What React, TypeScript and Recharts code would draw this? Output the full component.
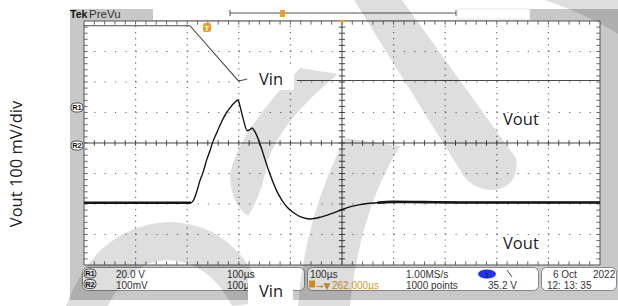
import React from 'react';
import { LineChart, Line, XAxis, YAxis, ReferenceLine, ReferenceArea } from 'recharts';

// ---- data ----
// time in µs relative to trigger, Vout in mV (relative to R2 reference), Vin in volts
const voutTimeUs = [-238.4, -31, -27, -20, -14, -8, 0, 6, 10, 20, 29, 38, 45, 52, 57, 60, 64, 70, 78, 83, 87, 91, 95, 101, 107, 112, 119, 126, 135, 145, 155, 167, 183, 200, 222, 244, 262, 280, 296, 330, 360, 420, 490, 761.6];
const voutMv = [-196, -196, -190, -160, -125, -98, -52, -24, -2, 38, 72, 100, 116, 130, 138, 141, 120, 80, 40, 44, 49, 42, 30, 5, -25, -52, -88, -120, -157, -187, -210, -228, -243, -249, -242, -230, -218, -208, -202, -196, -193, -194, -195, -195];
const vinTimeUs = [-238.4, -33, 60, 66, 74, 78, 120, 174, 761.6];
const vinVolts: (number | null)[] = [53.3, 53.3, 17.4, 17.4, 18.0, 18.4, null, 17.4, 17.4];

// screen settings
const T_MIN = -238.4;
const T_MAX = 761.6;
const US_PER_DIV = 100;
const MV_PER_DIV = 100;
const MV_MIN = -400;
const MV_MAX = 400;
const VIN_DOMAIN: [number, number] = [-103.6, 56.4];

const voutData = voutTimeUs.map((t, i) => ({ t, v: voutMv[i] }));
const voutFlat = voutData.map((d) => ({ t: d.t, v: d.t < -28 || d.t > 320 ? d.v : null }));
const vinData = vinTimeUs.map((t, i) => ({ t, v: vinVolts[i] }));

const vGrid: number[] = [];
for (let k = 1; k < 10; k++) vGrid.push(T_MIN + k * US_PER_DIV);
const hGrid: number[] = [];
for (let k = 1; k < 8; k++) hGrid.push(MV_MIN + k * MV_PER_DIV);
const xMinor: number[] = [];
for (let k = 1; k < 50; k++) xMinor.push(T_MIN + k * (US_PER_DIV / 5));
const yMinor: number[] = [];
for (let k = 1; k < 40; k++) yMinor.push(MV_MIN + k * (MV_PER_DIV / 5));
const T_CENTER = T_MIN + 5 * US_PER_DIV;

const GRID = '#6a6a6a';
const FRAME = '#555';
const ORANGE = '#f0a020';
const SANS = '"Open Sans", "Noto Sans", sans-serif';
const SCOPE = '"Liberation Sans", Arial, sans-serif';

function Chart() {
  const seg = (key: string, a: { x: number; y: number }, b: { x: number; y: number }, color = '#444') => (
    <ReferenceLine key={key} yAxisId="mv" segment={[a, b]} stroke={color} strokeWidth={1} ifOverflow="visible" />
  );
  return (
    <LineChart width={618} height={306} margin={{ top: 21, right: 18, bottom: 41, left: 84 }}>
      <XAxis type="number" dataKey="t" domain={[T_MIN, T_MAX]} hide allowDataOverflow />
      <YAxis yAxisId="mv" type="number" domain={[MV_MIN, MV_MAX]} hide allowDataOverflow />
      <YAxis yAxisId="vin" type="number" domain={VIN_DOMAIN} hide allowDataOverflow />
      <ReferenceArea yAxisId="mv" x1={T_MIN} x2={T_MAX} y1={MV_MIN} y2={MV_MAX} fill="#ffffff" fillOpacity={1} stroke={FRAME} strokeWidth={1} ifOverflow="visible" />
      {vGrid.map((t) =>
        Math.abs(t - T_CENTER) < 1 ? (
          <ReferenceLine key={'vg' + t} yAxisId="mv" x={t} stroke="#444" strokeWidth={1} />
        ) : (
          <ReferenceLine key={'vg' + t} yAxisId="mv" x={t} stroke={GRID} strokeWidth={1.2} strokeDasharray="1.2 4.9" />
        )
      )}
      {hGrid.map((v) =>
        v === 0 ? (
          <ReferenceLine key={'hg' + v} yAxisId="mv" y={v} stroke="#444" strokeWidth={1} />
        ) : (
          <ReferenceLine key={'hg' + v} yAxisId="mv" y={v} stroke={GRID} strokeWidth={1.2} strokeDasharray="1.2 9.12" />
        )
      )}
      {xMinor.map((t) => seg('xc' + t, { x: t, y: -9 }, { x: t, y: 9 }))}
      {yMinor.map((v) => seg('yc' + v, { x: T_CENTER - 6, y: v }, { x: T_CENTER + 6, y: v }))}
      {xMinor.map((t) => seg('xt' + t, { x: t, y: MV_MAX }, { x: t, y: MV_MAX - 12 }, '#666'))}
      {xMinor.map((t) => seg('xb' + t, { x: t, y: MV_MIN }, { x: t, y: MV_MIN + 12 }, '#666'))}
      {yMinor.map((v) => seg('yl' + v, { x: T_MIN, y: v }, { x: T_MIN + 7, y: v }, '#666'))}
      {yMinor.map((v) => seg('yr' + v, { x: T_MAX, y: v }, { x: T_MAX - 7, y: v }, '#666'))}
      <Line yAxisId="vin" data={vinData} dataKey="v" stroke="#4a4a4a" strokeWidth={1.1} dot={false} isAnimationActive={false} connectNulls={false} />
      <Line yAxisId="mv" type="monotone" data={voutData} dataKey="v" stroke="#151515" strokeWidth={1.4} dot={false} isAnimationActive={false} />
      <Line yAxisId="mv" type="monotone" data={voutFlat} dataKey="v" stroke="#151515" strokeWidth={2.6} dot={false} isAnimationActive={false} connectNulls={false} />
    </LineChart>
  );
}

function RBadge({ x, y, label }: { x: number; y: number; label: string }) {
  return (
    <g>
      <rect x={x} y={y} width={12} height={9} rx={4} fill="#fff" stroke="#333" strokeWidth={0.8} />
      <text x={x + 6} y={y + 7.3} fontSize={7.5} fontWeight="bold" fontFamily={SCOPE} textAnchor="middle" fill="#111">{label}</text>
    </g>
  );
}

function Overlay() {
  const row1 = 278;
  const row2 = 288.5;
  const fs = 10;
  return (
    <svg width={618} height={306} style={{ position: 'absolute', left: 0, top: 0 }}>
      {/* top bar */}
      <text x={70} y={18} fontSize={10.5} fontWeight="bold" fontFamily={SCOPE} fill="#111">Tek</text>
      <text x={89} y={18} fontSize={11.5} fontFamily={SCOPE} fill="#333">PreVu</text>
      <rect x={153} y={9} width={377} height={11} fill="#fff" />
      <line x1={230} y1={13} x2={456} y2={13} stroke="#555" strokeWidth={1} />
      <line x1={230} y1={10} x2={230} y2={16} stroke="#555" strokeWidth={1} />
      <line x1={456} y1={10} x2={456} y2={16} stroke="#555" strokeWidth={1} />
      <rect x={457} y={9} width={73} height={10} fill="#fff" stroke="#ccc" strokeWidth={0.5} />
      <rect x={280} y={10} width={5} height={7} fill={ORANGE} />
      <path d="M338.5,20 L345.5,20 L342,24 Z" fill={ORANGE} />
      {/* trigger marker */}
      <rect x={203} y={23} width={8} height={9} rx={2} fill={ORANGE} />
      <text x={207} y={30.5} fontSize={7} fontWeight="bold" fontFamily={SCOPE} textAnchor="middle" fill="#fff">T</text>
      {/* reference markers */}
      <RBadge x={71} y={103} label="R1" />
      <RBadge x={71} y={141} label="R2" />
      {/* bottom info boxes */}
      <rect x={82.5} y={267.5} width={222} height={23} rx={5} fill="#fff" stroke="#888" />
      <rect x={307.5} y={267.5} width={231} height={23} rx={5} fill="#fff" stroke="#888" />
      <rect x={541.5} y={267.5} width={75} height={23} rx={5} fill="#fff" stroke="#888" />
      <RBadge x={84} y={269} label="R1" />
      <RBadge x={84} y={279.5} label="R2" />
      <g fontSize={fs} fontFamily={SCOPE} fill="#333">
        <text x={116} y={row1}>20.0 V</text>
        <text x={116} y={row2}>100mV</text>
        <text x={227} y={row1}>100µs</text>
        <text x={227} y={row2}>100µs</text>
        <text x={310} y={row1}>100µs</text>
        <text x={406} y={row1}>1.00MS/s</text>
        <text x={406} y={row2}>1000 points</text>
        <text x={488} y={row2}>35.2 V</text>
        <text x={553} y={row1}>6 Oct</text>
        <text x={593} y={row1}>2022</text>
        <text x={547} y={row2}>12: 13: 35</text>
      </g>
      <ellipse cx={487} cy={274} rx={9} ry={4.5} fill="#1f35f0" />
      <text x={487} y={277.5} fontSize={8} fontFamily={SCOPE} textAnchor="middle" fill="#111">1</text>
      <line x1={507} y1={270} x2={512} y2={277} stroke="#444" strokeWidth={1} />
      <rect x={309} y={280.5} width={6} height={7} fill={ORANGE} />
      <text x={316} y={row2} fontSize={9} fontFamily='"DejaVu Sans", sans-serif' fill="#d49a28">→▼</text>
      <text x={332} y={row2} fontSize={fs} fontFamily={SCOPE} fill="#d49a28">262.000µs</text>
      {/* watermark */}
      <g fill="#000" fillOpacity={0.13}>
        <path d="M354,0 L402,0 L516,158 Q520,186 494,190 Q470,190 460,170 Z" />
        <path d="M300,68 L338,74 Q282,120 268,160 Q262,195 248,216 Q232,205 230,178 Q232,140 300,68 Z" />
        <path d="M345,138 L400,146 Q360,210 350,306 L298,306 Q304,220 345,138 Z" />
        <path d="M66,306 Q96,226 168,222 Q236,222 268,302 L232,306 Q210,262 168,260 Q128,262 108,306 Z" />
        <path d="M545,0 L618,0 L618,34 Q590,16 545,0 Z" />
      </g>
      {/* annotations */}
      <rect x={248} y={66} width={46} height={24} fill="#fff" />
      <text x={259} y={85} fontSize={16.5} fontFamily={SANS} fill="#222">Vin</text>
      <text x={503} y={125} fontSize={16.5} fontFamily={SANS} fill="#222">Vout</text>
      <text x={503} y={249} fontSize={16.5} fontFamily={SANS} fill="#222">Vout</text>
      <rect x={248} y={278} width={45} height={28} fill="#fff" />
      <text x={259} y={297} fontSize={16.5} fontFamily={SANS} fill="#222">Vin</text>
      <text x={21.5} y={164} fontSize={16.5} fontFamily={SANS} fill="#222" textAnchor="middle" transform="rotate(-90 21.5 164)">Vout 100 mV/div</text>
    </svg>
  );
}

export default function App() {
  return (
    <div style={{ position: 'absolute', left: 0, top: 0, width: 618, height: 306, background: '#fff', overflow: 'hidden' }}>
      <div style={{ position: 'absolute', left: 70, top: 9, width: 548, height: 291, background: '#c8c8c8' }} />
      <div style={{ position: 'absolute', left: 0, top: 0 }}>
        <Chart />
      </div>
      <Overlay />
    </div>
  );
}
